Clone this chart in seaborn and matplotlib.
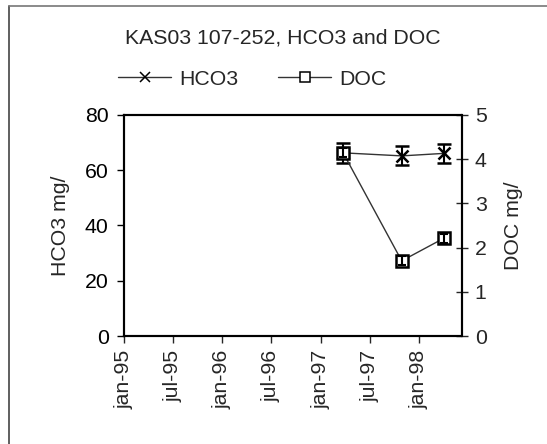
import matplotlib
matplotlib.use("Agg")
import matplotlib.pyplot as plt
import pandas as pd
import seaborn as sns

# ==========================================
# DATA
# ==========================================
sample_dates = ["1997-03-24", "1997-10-28", "1998-04-02"]
hco3_vals = [66.3, 65.2, 66.1]
hco3_err = [3.6, 3.4, 3.3]
doc_vals = [4.15, 1.70, 2.21]
doc_err = [0.10, 0.10, 0.10]

tick_dates = ["1995-01-01", "1995-07-01", "1996-01-01", "1996-07-01",
              "1997-01-01", "1997-07-01", "1998-01-01"]
tick_labels = ["jan-95", "jul-95", "jan-96", "jul-96", "jan-97", "jul-97", "jan-98"]
x_start, x_end = "1995-01-01", "1998-06-07"

df = pd.DataFrame({"date": pd.to_datetime(sample_dates),
                   "HCO3": hco3_vals, "HCO3_err": hco3_err,
                   "DOC": doc_vals, "DOC_err": doc_err})

# ==========================================
# STYLE
# ==========================================
sns.set_style("white")
plt.rcParams["font.family"] = ["Liberation Sans", "DejaVu Sans"]
FS = 15.3

fig = plt.figure(figsize=(5.47, 4.44), dpi=100)
ax = fig.add_axes([124 / 547, 1 - 336 / 444, 337.5 / 547, 221 / 444])
ax2 = ax.twinx()

line_kw = dict(color="#333333", linewidth=1.0)

sns.lineplot(data=df, x="date", y="HCO3", ax=ax, marker="x", markersize=8,
             markeredgewidth=1.8, markeredgecolor="black", label="HCO3", **line_kw)
ax.errorbar(df["date"], df["HCO3"], yerr=df["HCO3_err"], fmt="none",
            ecolor="black", elinewidth=1.5, capsize=5, capthick=1.8)

sns.lineplot(data=df, x="date", y="DOC", ax=ax2, marker="s", markersize=8,
             markerfacecolor="white", markeredgecolor="black",
             markeredgewidth=1.8, label="DOC", **line_kw)
ax2.errorbar(df["date"], df["DOC"], yerr=df["DOC_err"], fmt="none",
             ecolor="black", elinewidth=1.5, capsize=3, capthick=1.5)

# axes limits & ticks
ax.set_xlim(pd.Timestamp(x_start), pd.Timestamp(x_end))
ax.set_xticks(pd.to_datetime(tick_dates))
ax.set_xticklabels(tick_labels, rotation=90, fontsize=FS)
ax.set_ylim(0, 80)
ax.set_yticks([0, 20, 40, 60, 80])
ax2.set_ylim(0, 5)
ax2.set_yticks([0, 1, 2, 3, 4, 5])

ax.tick_params(axis="y", labelsize=FS, length=5, width=1, direction="out",
               pad=6, left=True, colors="black")
ax.tick_params(axis="x", length=5, width=1, direction="out", pad=5, bottom=True)
ax2.tick_params(axis="y", labelsize=FS, length=9, width=1, direction="inout",
                pad=5, right=True)

for a in (ax, ax2):
    for s in a.spines.values():
        s.set_color("black")
        s.set_linewidth(1.5)
    a.set_xlabel("")

ax.set_ylabel("HCO3 mg/", fontsize=FS)
ax.yaxis.set_label_coords(-0.16, 0.5)
ax2.set_ylabel("DOC mg/", fontsize=FS, rotation=90)
ax2.yaxis.set_label_coords(1.126, 0.5)

# legend above the plot
h1, l1 = ax.get_legend_handles_labels()
h2, l2 = ax2.get_legend_handles_labels()
ax.get_legend().remove()
ax2.get_legend().remove()
leg = fig.legend(h1 + h2, l1 + l2, loc="center", bbox_to_anchor=(0.461, 0.822),
                 ncol=2, frameon=False, fontsize=FS, handlelength=2.5,
                 handletextpad=0.35, columnspacing=1.9)
for h in leg.legend_handles:
    h.set_markeredgewidth(1.1)
    h.set_markersize(7)

fig.text(0.517, 0.914, "KAS03 107-252, HCO3 and DOC", ha="center", va="center",
         fontsize=FS)

# outer chart frame (left and top edges visible in the scan)
fig.add_artist(plt.Line2D([9 / 547, 9 / 547], [0, 1 - 6 / 444],
                          transform=fig.transFigure, color="#444444", lw=1.2))
fig.add_artist(plt.Line2D([9 / 547, 1], [1 - 6 / 444, 1 - 6 / 444],
                          transform=fig.transFigure, color="#777777", lw=1.2))

fig.savefig("out.png", dpi=100)
